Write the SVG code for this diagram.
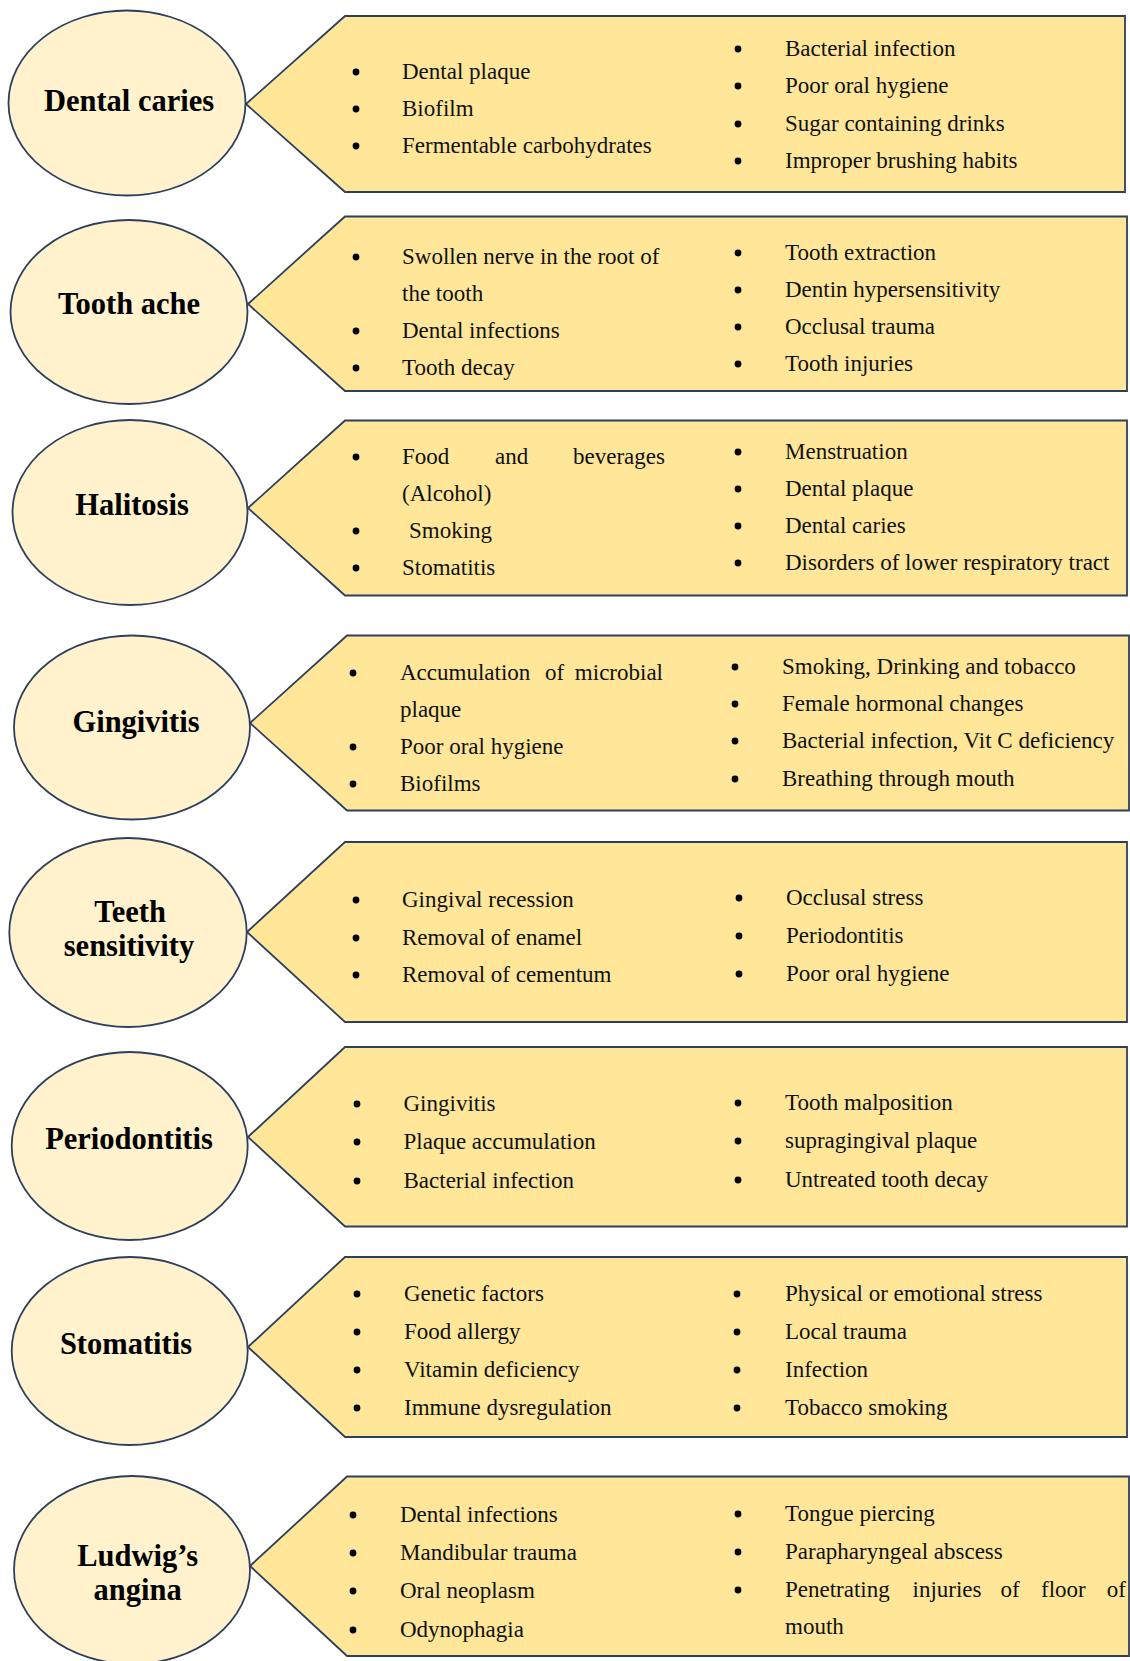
<svg xmlns="http://www.w3.org/2000/svg" width="1130" height="1661" viewBox="0 0 1130 1661">
<style>
.box{fill:#FFE699;stroke:#2E3F5E;stroke-width:1.8}
.ell{fill:#FFF2CC;stroke:#2E3F5E;stroke-width:1.8}
.h{font-family:"Liberation Serif","Times New Roman",serif;font-weight:bold;font-size:30.5px;fill:#000;text-anchor:middle}
.t{font-family:"Liberation Serif","Times New Roman",serif;font-size:23px;fill:#111}
.e{text-anchor:end}
.b{fill:#000}
</style>
<defs><circle id="bu" r="3.4" class="b"/></defs>
<rect width="1130" height="1661" fill="#fff"/>

<g id="dental-caries">
<polygon class="box" points="246,104 345,16 1125,16 1125,192 345,192"/>
<ellipse class="ell" cx="127" cy="103" rx="118.5" ry="92.5"/>
<text class="h" x="129" y="111">Dental caries</text>
<use href="#bu" x="356" y="72"/><text class="t" x="402" y="79">Dental plaque</text>
<use href="#bu" x="356" y="109"/><text class="t" x="402" y="116">Biofilm</text>
<use href="#bu" x="356" y="146"/><text class="t" x="402" y="153">Fermentable carbohydrates</text>
<use href="#bu" x="738" y="49"/><text class="t" x="785" y="56">Bacterial infection</text>
<use href="#bu" x="738" y="86"/><text class="t" x="785" y="93">Poor oral hygiene</text>
<use href="#bu" x="738" y="124"/><text class="t" x="785" y="131">Sugar containing drinks</text>
<use href="#bu" x="738" y="161"/><text class="t" x="785" y="168">Improper brushing habits</text>
</g>

<g id="tooth-ache">
<polygon class="box" points="248,304 345,216.5 1127,216.5 1127,391 345,391"/>
<ellipse class="ell" cx="129" cy="312" rx="118.5" ry="92"/>
<text class="h" x="129" y="314">Tooth ache</text>
<use href="#bu" x="356" y="257"/><text class="t" x="402" y="264">Swollen nerve in the root of</text>
<text class="t" x="402" y="301">the tooth</text>
<use href="#bu" x="356" y="331"/><text class="t" x="402" y="338">Dental infections</text>
<use href="#bu" x="356" y="368"/><text class="t" x="402" y="375">Tooth decay</text>
<use href="#bu" x="738" y="253"/><text class="t" x="785" y="260">Tooth extraction</text>
<use href="#bu" x="738" y="290"/><text class="t" x="785" y="297">Dentin hypersensitivity</text>
<use href="#bu" x="738" y="327"/><text class="t" x="785" y="334">Occlusal trauma</text>
<use href="#bu" x="738" y="364"/><text class="t" x="785" y="371">Tooth injuries</text>
</g>

<g id="halitosis">
<polygon class="box" points="248,508 345,420.5 1127,420.5 1127,595.5 345,595.5"/>
<ellipse class="ell" cx="130" cy="512.5" rx="117.5" ry="92.5"/>
<text class="h" x="132" y="515">Halitosis</text>
<use href="#bu" x="356" y="457"/><text class="t" x="402" y="464">Food</text><text class="t" x="495" y="464">and</text><text class="t e" x="665" y="464">beverages</text>
<text class="t" x="402" y="501">(Alcohol)</text>
<use href="#bu" x="356" y="531"/><text class="t" x="409" y="538">Smoking</text>
<use href="#bu" x="356" y="568"/><text class="t" x="402" y="575">Stomatitis</text>
<use href="#bu" x="738" y="452"/><text class="t" x="785" y="459">Menstruation</text>
<use href="#bu" x="738" y="489"/><text class="t" x="785" y="496">Dental plaque</text>
<use href="#bu" x="738" y="526"/><text class="t" x="785" y="533">Dental caries</text>
<use href="#bu" x="738" y="563"/><text class="t" x="785" y="570">Disorders of lower respiratory tract</text>
</g>

<g id="gingivitis">
<polygon class="box" points="250,723 347,635.5 1129,635.5 1129,810.5 347,810.5"/>
<ellipse class="ell" cx="132" cy="727.5" rx="118" ry="92"/>
<text class="h" x="136" y="732">Gingivitis</text>
<use href="#bu" x="353" y="673"/><text class="t" x="400" y="680">Accumulation</text><text class="t" x="545" y="680">of</text><text class="t e" x="663" y="680">microbial</text>
<text class="t" x="400" y="717">plaque</text>
<use href="#bu" x="353" y="747"/><text class="t" x="400" y="754">Poor oral hygiene</text>
<use href="#bu" x="353" y="784"/><text class="t" x="400" y="791">Biofilms</text>
<use href="#bu" x="735" y="667"/><text class="t" x="782" y="674">Smoking, Drinking and tobacco</text>
<use href="#bu" x="735" y="704"/><text class="t" x="782" y="711">Female hormonal changes</text>
<use href="#bu" x="735" y="741"/><text class="t" x="782" y="748">Bacterial infection, Vit C deficiency</text>
<use href="#bu" x="735" y="779"/><text class="t" x="782" y="786">Breathing through mouth</text>
</g>

<g id="teeth-sensitivity">
<polygon class="box" points="247,932 345,842 1127,842 1127,1022 345,1022"/>
<ellipse class="ell" cx="128" cy="932.5" rx="118.7" ry="94.5"/>
<text class="h" x="130" y="922">Teeth</text>
<text class="h" x="129" y="956">sensitivity</text>
<use href="#bu" x="356" y="900"/><text class="t" x="402" y="907">Gingival recession</text>
<use href="#bu" x="356" y="938"/><text class="t" x="402" y="945">Removal of enamel</text>
<use href="#bu" x="356" y="975"/><text class="t" x="402" y="982">Removal of cementum</text>
<use href="#bu" x="739" y="898"/><text class="t" x="786" y="905">Occlusal stress</text>
<use href="#bu" x="739" y="936"/><text class="t" x="786" y="943">Periodontitis</text>
<use href="#bu" x="739" y="974"/><text class="t" x="786" y="981">Poor oral hygiene</text>
</g>

<g id="periodontitis">
<polygon class="box" points="248,1137 345,1047 1127,1047 1127,1226.5 345,1226.5"/>
<ellipse class="ell" cx="129.7" cy="1146" rx="118" ry="94"/>
<text class="h" x="129" y="1149">Periodontitis</text>
<use href="#bu" x="357" y="1104"/><text class="t" x="403.5" y="1111">Gingivitis</text>
<use href="#bu" x="357" y="1142"/><text class="t" x="403.5" y="1149">Plaque accumulation</text>
<use href="#bu" x="357" y="1181"/><text class="t" x="403.5" y="1188">Bacterial infection</text>
<use href="#bu" x="738" y="1103"/><text class="t" x="785" y="1110">Tooth malposition</text>
<use href="#bu" x="738" y="1141"/><text class="t" x="785" y="1148">supragingival plaque</text>
<use href="#bu" x="738" y="1180"/><text class="t" x="785" y="1187">Untreated tooth decay</text>
</g>

<g id="stomatitis">
<polygon class="box" points="248,1347 345,1257 1127,1257 1127,1437 345,1437"/>
<ellipse class="ell" cx="129.7" cy="1351" rx="118" ry="94"/>
<text class="h" x="126" y="1354">Stomatitis</text>
<use href="#bu" x="357" y="1294"/><text class="t" x="404" y="1301">Genetic factors</text>
<use href="#bu" x="357" y="1332"/><text class="t" x="404" y="1339">Food allergy</text>
<use href="#bu" x="357" y="1370"/><text class="t" x="404" y="1377">Vitamin deficiency</text>
<use href="#bu" x="357" y="1408"/><text class="t" x="404" y="1415">Immune dysregulation</text>
<use href="#bu" x="737" y="1294"/><text class="t" x="785" y="1301">Physical or emotional stress</text>
<use href="#bu" x="737" y="1332"/><text class="t" x="785" y="1339">Local trauma</text>
<use href="#bu" x="737" y="1370"/><text class="t" x="785" y="1377">Infection</text>
<use href="#bu" x="737" y="1408"/><text class="t" x="785" y="1415">Tobacco smoking</text>
</g>

<g id="ludwigs-angina">
<polygon class="box" points="250,1566 347,1476.5 1129,1476.5 1129,1656 347,1656"/>
<ellipse class="ell" cx="132" cy="1570" rx="118" ry="94"/>
<text class="h" x="137.7" y="1566">Ludwig’s</text>
<text class="h" x="137.7" y="1600">angina</text>
<use href="#bu" x="353" y="1515"/><text class="t" x="400" y="1522">Dental infections</text>
<use href="#bu" x="353" y="1553"/><text class="t" x="400" y="1560">Mandibular trauma</text>
<use href="#bu" x="353" y="1591"/><text class="t" x="400" y="1598">Oral neoplasm</text>
<use href="#bu" x="353" y="1630"/><text class="t" x="400" y="1637">Odynophagia</text>
<use href="#bu" x="738" y="1514"/><text class="t" x="785" y="1521">Tongue piercing</text>
<use href="#bu" x="738" y="1552"/><text class="t" x="785" y="1559">Parapharyngeal abscess</text>
<use href="#bu" x="738" y="1590"/><text class="t" x="785" y="1597">Penetrating</text><text class="t" x="912.5" y="1597">injuries</text><text class="t" x="1000.5" y="1597">of</text><text class="t" x="1041" y="1597">floor</text><text class="t e" x="1126" y="1597">of</text>
<text class="t" x="785" y="1634">mouth</text>
</g>
</svg>
